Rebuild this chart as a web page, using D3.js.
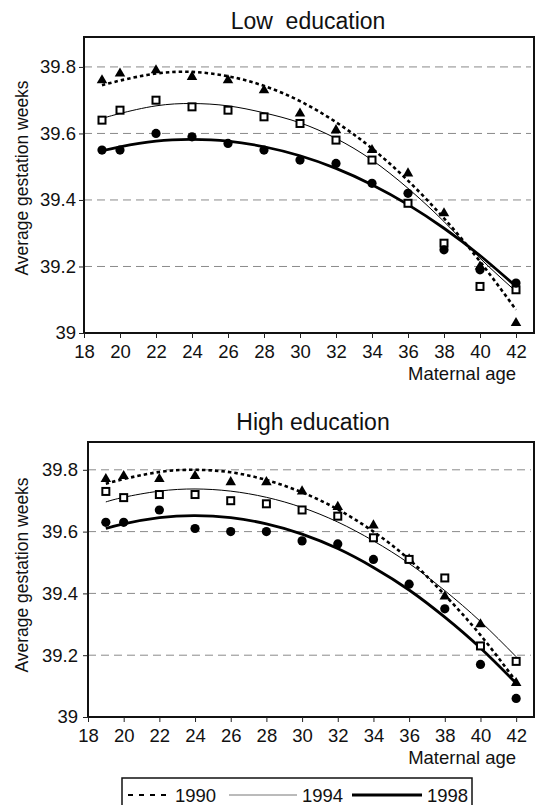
<!DOCTYPE html>
<html>
<head>
<meta charset="utf-8">
<script src="https://cdn.jsdelivr.net/npm/d3@7"></script>
<style>
  body { margin: 0; background: #fff; }
  svg { display: block; font-family: "Liberation Sans", Arial, sans-serif; }
</style>
</head>
<body>
<div id="chart"></div>
<script>
// ages where the yearly means were plotted
const ages = [19, 20, 22, 24, 26, 28, 30, 32, 34, 36, 38, 40, 42];
const xTicks = [18, 20, 22, 24, 26, 28, 30, 32, 34, 36, 38, 40, 42];
const yTicks = [39, 39.2, 39.4, 39.6, 39.8];
const years = ["1990", "1994", "1998"];

// Low education - observed means
const low1990 = [39.76, 39.78, 39.79, 39.77, 39.76, 39.73, 39.66, 39.61, 39.55, 39.48, 39.36, 39.20, 39.03];
const low1994 = [39.64, 39.67, 39.70, 39.68, 39.67, 39.65, 39.63, 39.58, 39.52, 39.39, 39.27, 39.14, 39.13];
const low1998 = [39.55, 39.55, 39.60, 39.59, 39.57, 39.55, 39.52, 39.51, 39.45, 39.42, 39.25, 39.19, 39.15];
// Low education - trend curves
const lowFit1990 = [39.745, 39.759, 39.78, 39.785, 39.772, 39.743, 39.697, 39.634, 39.555, 39.458, 39.345, 39.215, 39.07];
const lowFit1994 = [39.645, 39.66, 39.683, 39.69, 39.683, 39.662, 39.632, 39.585, 39.52, 39.435, 39.335, 39.225, 39.125];
const lowFit1998 = [39.548, 39.56, 39.577, 39.582, 39.577, 39.56, 39.533, 39.495, 39.446, 39.386, 39.315, 39.233, 39.14];

// High education - observed means
const high1990 = [39.77, 39.78, 39.77, 39.78, 39.76, 39.76, 39.73, 39.68, 39.62, 39.51, 39.39, 39.30, 39.11];
const high1994 = [39.73, 39.71, 39.72, 39.72, 39.70, 39.69, 39.67, 39.65, 39.58, 39.51, 39.45, 39.23, 39.18];
const high1998 = [39.63, 39.63, 39.67, 39.61, 39.60, 39.60, 39.57, 39.56, 39.51, 39.43, 39.35, 39.17, 39.06];
// High education - trend curves
const highFit1990 = [39.755, 39.77, 39.793, 39.80, 39.792, 39.767, 39.727, 39.672, 39.60, 39.51, 39.395, 39.265, 39.115];
const highFit1994 = [39.696, 39.711, 39.731, 39.738, 39.731, 39.711, 39.678, 39.631, 39.57, 39.497, 39.409, 39.309, 39.195];
const highFit1998 = [39.61, 39.625, 39.645, 39.652, 39.645, 39.625, 39.592, 39.545, 39.484, 39.411, 39.323, 39.223, 39.109];

const W = 557, H = 805;
const svg = d3.select("#chart").append("svg")
  .attr("width", W).attr("height", H);

// line style per year
const styles = {
  "1990": { width: 2.6, dash: "3.5,3" },
  "1994": { width: 1, dash: null },
  "1998": { width: 2.8, dash: null }
};

function drawPanel(p) {
  const x = d3.scaleLinear().domain([18, 43]).range([p.left, p.right]);
  const y = d3.scaleLinear().domain([39, 39.89]).range([p.bottom, p.top]);
  const g = svg.append("g");

  // dashed grid
  g.selectAll("line.grid")
    .data(yTicks.filter(d => d > 39))
    .enter().append("line")
    .attr("x1", p.left).attr("x2", p.right - 3)
    .attr("y1", d => y(d)).attr("y2", d => y(d))
    .attr("stroke", "#8a8a8a").attr("stroke-width", 1)
    .attr("stroke-dasharray", "8,5");

  // trend curves
  const line = d3.line()
    .x((d, i) => x(ages[i]))
    .y(d => y(d))
    .curve(d3.curveNatural);
  p.fits.forEach((f, k) => {
    const s = styles[years[k]];
    g.append("path")
      .attr("d", line(f))
      .attr("fill", "none")
      .attr("stroke", "#000")
      .attr("stroke-width", s.width)
      .attr("stroke-dasharray", s.dash);
  });

  // markers: 1990 triangles, 1994 open squares, 1998 dots
  const tri = d3.symbol().type(d3.symbolTriangle).size(48);
  g.selectAll("path.tri")
    .data(p.series[0]).enter().append("path")
    .attr("d", tri)
    .attr("transform", (d, i) => `translate(${x(ages[i])},${y(d)})`)
    .attr("fill", "#000");
  g.selectAll("rect.sq")
    .data(p.series[1]).enter().append("rect")
    .attr("x", (d, i) => x(ages[i]) - 3.5)
    .attr("y", d => y(d) - 3.5)
    .attr("width", 7).attr("height", 7)
    .attr("fill", "#fff").attr("stroke", "#000").attr("stroke-width", 2);
  g.selectAll("circle.dot")
    .data(p.series[2]).enter().append("circle")
    .attr("cx", (d, i) => x(ages[i]))
    .attr("cy", d => y(d))
    .attr("r", 4.6)
    .attr("fill", "#000");

  // frame
  g.append("rect")
    .attr("x", p.left).attr("y", p.top)
    .attr("width", p.right - p.left).attr("height", p.bottom - p.top)
    .attr("fill", "none").attr("stroke", "#111").attr("stroke-width", 2);

  // axes
  const xAxis = g.append("g")
    .attr("transform", `translate(0,${p.bottom})`)
    .call(d3.axisBottom(x).tickValues(xTicks).tickSize(5).tickPadding(7).tickSizeOuter(0));
  const yAxis = g.append("g")
    .attr("transform", `translate(${p.left},0)`)
    .call(d3.axisLeft(y).tickValues(yTicks).tickSize(5).tickPadding(p.ypad).tickSizeOuter(0)
      .tickFormat(d => d === 39 ? "39" : d3.format(".1f")(d)));
  [xAxis, yAxis].forEach(a => {
    a.select(".domain").remove();
    a.selectAll("line").attr("stroke", "#222");
    a.selectAll("text").attr("font-size", 18.5).attr("fill", "#111")
      .attr("font-family", "Liberation Sans, Arial, sans-serif");
  });

  // titles and labels
  g.append("text")
    .attr("x", p.titleX).attr("y", p.titleY)
    .attr("text-anchor", "middle")
    .attr("font-size", 23)
    .style("white-space", "pre")
    .attr("fill", "#111")
    .text(p.title);
  g.append("text")
    .attr("transform", `translate(28,${p.labelY}) rotate(-90)`)
    .attr("text-anchor", "middle")
    .attr("font-size", 17.5).attr("fill", "#111")
    .text("Average gestation weeks");
  g.append("text")
    .attr("x", x(42)).attr("y", p.bottom + 47)
    .attr("text-anchor", "end")
    .attr("font-size", 18.5).attr("fill", "#111")
    .text("Maternal age");
}

drawPanel({
  title: "Low  education", titleX: 308, titleY: 29,
  left: 84, right: 534, top: 37, bottom: 333, ypad: 3, labelY: 178,
  series: [low1990, low1994, low1998],
  fits: [lowFit1990, lowFit1994, lowFit1998]
});
drawPanel({
  title: "High education", titleX: 313, titleY: 430,
  left: 88, right: 534, top: 442, bottom: 717, ypad: 5, labelY: 575,
  series: [high1990, high1994, high1998],
  fits: [highFit1990, highFit1994, highFit1998]
});

// legend
const legend = svg.append("g");
legend.append("rect")
  .attr("x", 122).attr("y", 778).attr("width", 350).attr("height", 40)
  .attr("fill", "#fff").attr("stroke", "#111").attr("stroke-width", 1.5);
const legendItems = [
  { year: years[0], x1: 128, x2: 172, tx: 175 },
  { year: years[1], x1: 229, x2: 297, tx: 302 },
  { year: years[2], x1: 352, x2: 422, tx: 427 }
];
legendItems.forEach(it => {
  const s = styles[it.year];
  legend.append("line")
    .attr("x1", it.x1).attr("x2", it.x2).attr("y1", 795).attr("y2", 795)
    .attr("stroke", it.year === "1994" ? "#777" : "#000")
    .attr("stroke-width", it.year === "1990" ? 2 : s.width)
    .attr("stroke-dasharray", it.year === "1990" ? "5,6" : null);
  legend.append("text")
    .attr("x", it.tx).attr("y", 802)
    .attr("font-size", 18.5).attr("fill", "#111")
    .text(it.year);
});
</script>
</body>
</html>
